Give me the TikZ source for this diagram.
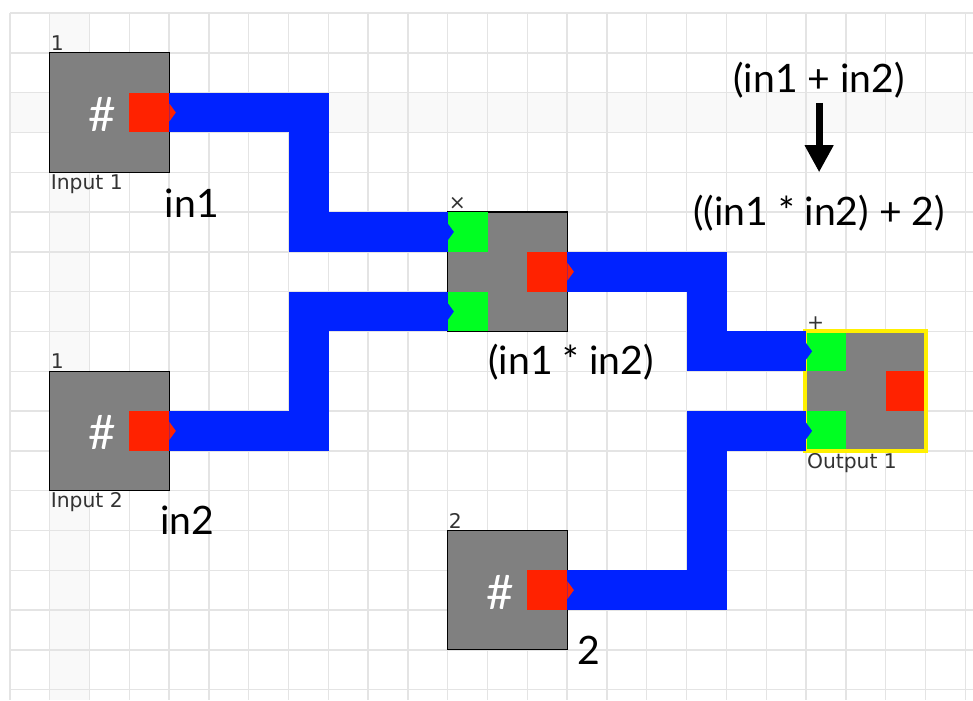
\documentclass[tikz,border=0pt]{standalone}
\usepackage{fontspec}
\setmainfont{Lato}
\newfontfamily\tagfont{DejaVu Sans}
\usetikzlibrary{arrows.meta,positioning}
\definecolor{wireblue}{RGB}{0,34,255}
\definecolor{portred}{RGB}{255,34,0}
\definecolor{portgreen}{RGB}{0,255,34}
\definecolor{boxgray}{RGB}{128,128,128}
\definecolor{gridgray}{RGB}{228,228,228}
\definecolor{hilite}{RGB}{249,249,249}
\definecolor{selyellow}{RGB}{255,240,0}
\tikzset{
	block/.style={draw=black, line width=0.9pt, fill=boxgray, minimum size=3cm, inner sep=0pt},
	outport/.style={fill=portred, minimum size=1cm, inner sep=0pt},
	inport/.style={fill=portgreen, minimum size=1cm, inner sep=0pt},
	wire/.style={draw=wireblue, line width=1cm},
	hash/.style={text=white, font=\fontsize{34}{40}\selectfont},
	tag/.style={font=\tagfont\fontsize{14.5}{17}\selectfont, text=black!80, inner sep=1pt},
	expr/.style={font=\fontsize{28}{34}\selectfont},
	bigarrow/.style={line width=1.7mm, -{Triangle[length=6.8mm,width=6.8mm]}},
	selframe/.style={draw=selyellow, line width=2.8pt}
}
\newcommand\porttip[2]{\fill[#1] (#2) ++(0,0.22) -- ++(0.16,-0.22) -- ++(-0.16,-0.22) -- cycle;}
\begin{document}
\begin{tikzpicture}
		\useasboundingbox (-0.251,0.327) rectangle (24.196,-17.261);
		\fill[hilite] (1,0) rectangle (2,-17.261);
		\fill[hilite] (0,-2) rectangle (24.196,-3);
		\draw[gridgray, line width=1pt] (0,0) grid (24.196,-17.261);

		\node[block] (in1) at (2.5,-2.5) {};
		\node[outport] (in1o) at (3.5,-2.5) {};
		\node[block] (in2) at (2.5,-10.5) {};
		\node[outport] (in2o) at (3.5,-10.5) {};
		\node[block] (mul) at (12.5,-6.5) {};
		\node[inport] (mulA) at (11.5,-5.5) {};
		\node[inport] (mulB) at (11.5,-7.5) {};
		\node[outport] (mulo) at (13.5,-6.5) {};
		\node[block] (con) at (12.5,-14.5) {};
		\node[outport] (cono) at (13.5,-14.5) {};
		\node[block, draw=none] (out) at (21.5,-9.5) {};
		\node[inport] (outA) at (20.5,-8.5) {};
		\node[inport] (outB) at (20.5,-10.5) {};
		\node[outport] (outo) at (22.5,-9.5) {};
		\draw[selframe] (out.north west) rectangle (out.south east);

		\draw[wire] (in1o.east) -- ++(3.5,0) |- (mulA.west);
		\draw[wire] (in2o.east) -- ++(3.5,0) |- (mulB.west);
		\draw[wire] (mulo.east) -- ++(3.5,0) |- (outA.west);
		\draw[wire] (cono.east) -- ++(3.5,0) |- (outB.west);

		\porttip{portred}{in1o.east}
		\porttip{portred}{in2o.east}
		\porttip{portred}{mulo.east}
		\porttip{portred}{cono.east}
		\porttip{wireblue}{mulA.west}
		\porttip{wireblue}{mulB.west}
		\porttip{wireblue}{outA.west}
		\porttip{wireblue}{outB.west}

		\node[hash] at (2.31,-2.54) {\#};
		\node[hash] at (2.31,-10.54) {\#};
		\node[hash] at (12.31,-14.55) {\#};

		\node[tag, anchor=south west] at (in1.north west) {1};
		\node[tag, anchor=north west] at (in1.south west) {Input 1};
		\node[tag, anchor=south west] at (in2.north west) {1};
		\node[tag, anchor=north west] at (in2.south west) {Input 2};
		\node[tag, anchor=south west] at (mul.north west) {×};
		\node[tag, anchor=south west] at (con.north west) {2};
		\node[tag, anchor=south west] at (out.north west) {+};
		\node[tag, anchor=north west] at (out.south west) {Output 1};

		\node[expr] (lab1) at (4.57,-4.77) {in1};
		\node[expr] (lab2) at (4.45,-12.74) {in2};
		\node[expr] (labmul) at (14.1,-8.77) {(in1 * in2)};
		\node[expr] (labtwo) at (14.55,-16.0) {2};
		\node[expr] (sum) at (20.33,-1.68) {(in1 + in2)};
		\node[expr] (final) at (20.33,-5.03) {((in1 * in2) + 2)};
		\draw[bigarrow, shorten <=0.0cm, shorten >=0.45cm] (sum) -- (final);
\end{tikzpicture}
\end{document}
